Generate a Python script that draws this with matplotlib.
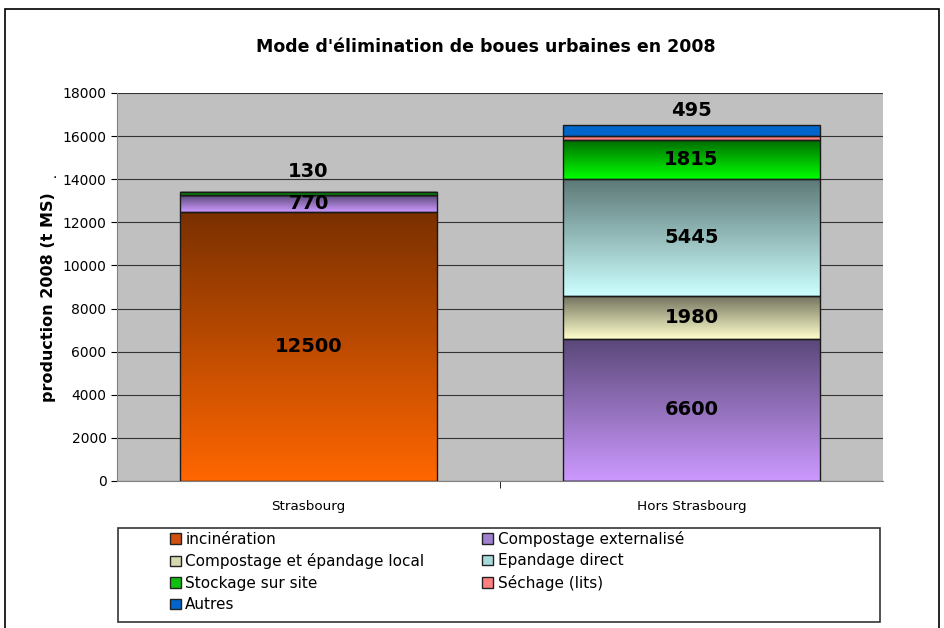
import numpy as np
import matplotlib
matplotlib.use("Agg")
import matplotlib.pyplot as plt
from matplotlib.patches import Rectangle

# donnees
sites = ["Strasbourg", "Hors Strasbourg"]
modes = ["incinération", "Compostage externalisé", "Compostage et épandage local",
         "Epandage direct", "Stockage sur site", "Séchage (lits)", "Autres"]
incineration = [12500, 0]
compostage_ext = [770, 6600]
compostage_local = [0, 1980]
epandage = [0, 5445]
stockage = [130, 1815]
sechage = [0, 180]
autres = [0, 495]
series = [incineration, compostage_ext, compostage_local, epandage, stockage, sechage, autres]
shown = [[True, False], [True, True], [False, True], [False, True],
         [True, True], [False, False], [False, True]]
label_offset = [[0, 0], [0, 0], [0, 0], [0, 0], [16, 0], [0, 0], [0, 0]]
label_offset[6][1] = 14

# couleurs degradees (haut, bas)
grad = [("#7a3000", "#ff6600"), ("#5a4878", "#cc99ff"), ("#747460", "#ffffcc"),
        ("#5c7876", "#ccffff"), ("#006a00", "#00ff00"), ("#ff8080", "#ff8080"),
        ("#0066cc", "#0066cc")]
legend_col = ["#d05010", "#a080d0", "#d8d8b0", "#a8dcdc", "#10c010", "#ff8080", "#0066cc"]

plt.rcParams['font.family'] = ['DejaVu Sans']
fig = plt.figure(figsize=(9.44, 6.28), dpi=100)
ax = fig.add_axes([117/944, 1-481/628, 766/944, 388/628])
ax.set_facecolor("#c0c0c0")

x = np.arange(len(sites))
bottom = np.zeros(len(sites))
for i, vals in enumerate(series):
    vals = np.array(vals, dtype=float)
    bars = ax.bar(x, vals, 0.67, bottom=bottom, facecolor="none",
                  edgecolor="#1a1a1a", linewidth=1, zorder=3)
    c_top = np.array(matplotlib.colors.to_rgb(grad[i][0]))
    c_bot = np.array(matplotlib.colors.to_rgb(grad[i][1]))
    t = np.linspace(0, 1, 100)[:, None]
    img = (c_top * (1 - t) + c_bot * t)[:, None, :]
    for j, b in enumerate(bars):
        if vals[j] <= 0:
            continue
        x0, y0 = b.get_x(), b.get_y()
        im = ax.imshow(img, extent=[x0, x0 + b.get_width(), y0, y0 + vals[j]],
                       aspect="auto", zorder=2, interpolation="bilinear")
        im.set_clip_path(b)
        if shown[i][j]:
            ax.annotate(f"{int(vals[j])}", (x[j], y0 + vals[j] / 2),
                        xytext=(0, label_offset[i][j]), textcoords="offset points",
                        ha="center", va="center", fontsize=14, fontweight="bold",
                        zorder=5)
    bottom += vals

ax.set_xlim(-0.5, 1.5)
ax.set_ylim(0, 18000)
ax.set_yticks(np.arange(0, 18001, 2000))
ax.yaxis.grid(True, color="#333333", linewidth=0.8)
ax.set_axisbelow(True)
ax.tick_params(axis="y", labelsize=10, length=4, direction="out")
ax.set_xticks(x)
ax.set_xticklabels(sites, fontsize=9.7)
ax.tick_params(axis="x", length=0, pad=14)
ax.set_xticks([0.5], minor=True)
ax.tick_params(axis="x", which="minor", length=5)
for s in ["top", "right"]:
    ax.spines[s].set_visible(False)
ax.spines["left"].set_color("#808080")
ax.spines["bottom"].set_color("#808080")
ax.set_ylabel("production 2008 (t MS)", fontsize=11.5, fontweight="bold")
ax.yaxis.set_label_coords(-0.079, 0.474)

fig.text(486/944, 1 - 47/628, "Mode d'élimination de boues urbaines en 2008",
         ha="center", va="center", fontsize=12.5, fontweight="bold")
fig.text(55/944, 1 - 178/628, "·", ha="center", va="center", fontsize=10)

# cadre exterieur
fig.patches.append(Rectangle((5/944, -0.01), 934/944, 1 - 9/628 + 0.01,
                             transform=fig.transFigure, fill=False,
                             edgecolor="black", linewidth=1.2))

# legende
fig.patches.append(Rectangle((118/944, 1 - 622/628), 762/944, 94/628,
                             transform=fig.transFigure, facecolor="white",
                             edgecolor="#333333", linewidth=1.2))
handles = [Rectangle((0, 0), 1, 1, facecolor=c, edgecolor="#222222") for c in legend_col]
order = [0, 2, 4, 6, 1, 3, 5]
leg = fig.legend([handles[k] for k in order], [modes[k] for k in order],
                 loc="upper left", bbox_to_anchor=(170/944, 1 - 531/628),
                 ncol=2, fontsize=11, frameon=False,
                 handlelength=0.7, handleheight=0.7,
                 handletextpad=0.3, labelspacing=0.42, borderaxespad=0,
                 borderpad=0, columnspacing=3.8)

fig.savefig("out.png", dpi=100)
